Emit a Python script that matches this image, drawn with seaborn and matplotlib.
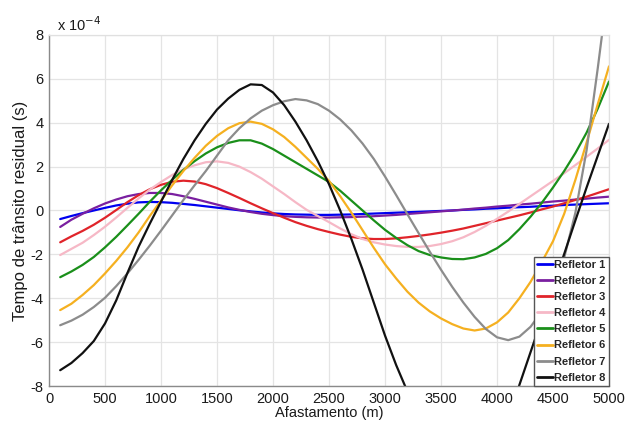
import numpy as np
import pandas as pd
import matplotlib
matplotlib.use("Agg")
import matplotlib.pyplot as plt
import seaborn as sns
from matplotlib import font_manager

# ---------------- data (residual transit time, units of 1e-4 s) ----------------
offset_m = list(range(100, 5001, 100))

refletor_1 = [-0.39, -0.25, -0.12, 0.00, 0.12, 0.23, 0.31, 0.37, 0.39, 0.38,
              0.35, 0.30, 0.25, 0.19, 0.13, 0.07, 0.01, -0.04, -0.09, -0.13,
              -0.16, -0.18, -0.19, -0.20, -0.20, -0.19, -0.18, -0.16, -0.14, -0.12,
              -0.10, -0.08, -0.06, -0.04, -0.02, 0.00, 0.03, 0.05, 0.08, 0.10,
              0.13, 0.15, 0.17, 0.20, 0.22, 0.25, 0.27, 0.29, 0.31, 0.33]
refletor_2 = [-0.75, -0.42, -0.15, 0.10, 0.32, 0.50, 0.65, 0.75, 0.80, 0.80,
              0.75, 0.65, 0.53, 0.40, 0.27, 0.14, 0.03, -0.07, -0.15, -0.21,
              -0.26, -0.29, -0.31, -0.32, -0.32, -0.31, -0.30, -0.28, -0.26, -0.23,
              -0.20, -0.16, -0.12, -0.08, -0.04, 0.00, 0.04, 0.09, 0.13, 0.18,
              0.22, 0.27, 0.31, 0.36, 0.41, 0.45, 0.50, 0.54, 0.59, 0.63]
refletor_3 = [-1.45, -1.18, -0.93, -0.65, -0.33, 0.02, 0.38, 0.70, 0.97, 1.17,
              1.31, 1.36, 1.32, 1.20, 1.02, 0.80, 0.57, 0.33, 0.10, -0.12,
              -0.33, -0.53, -0.70, -0.85, -0.98, -1.10, -1.20, -1.27, -1.30, -1.30,
              -1.27, -1.22, -1.16, -1.09, -1.01, -0.92, -0.82, -0.70, -0.58, -0.46,
              -0.34, -0.22, -0.09, 0.05, 0.18, 0.33, 0.48, 0.63, 0.80, 0.97]
refletor_4 = [-2.03, -1.75, -1.47, -1.12, -0.74, -0.32, 0.12, 0.55, 0.95, 1.30,
              1.62, 1.88, 2.06, 2.20, 2.24, 2.17, 2.00, 1.75, 1.45, 1.10,
              0.75, 0.38, 0.03, -0.25, -0.53, -0.82, -1.08, -1.30, -1.45, -1.55,
              -1.62, -1.66, -1.66, -1.62, -1.53, -1.40, -1.22, -0.98, -0.70, -0.38,
              -0.05, 0.30, 0.65, 1.00, 1.35, 1.70, 2.07, 2.45, 2.83, 3.22]
refletor_5 = [-3.04, -2.78, -2.48, -2.12, -1.68, -1.20, -0.68, -0.15, 0.40, 0.92,
              1.40, 1.85, 2.25, 2.60, 2.88, 3.08, 3.20, 3.20, 3.05, 2.80,
              2.50, 2.20, 1.90, 1.60, 1.30, 0.90, 0.45, 0.00, -0.45, -0.88,
              -1.25, -1.58, -1.85, -2.03, -2.14, -2.21, -2.22, -2.14, -1.98, -1.72,
              -1.35, -0.85, -0.28, 0.35, 1.05, 1.80, 2.62, 3.55, 4.65, 5.88]
refletor_6 = [-4.54, -4.25, -3.85, -3.40, -2.87, -2.30, -1.68, -1.00, -0.25, 0.45,
              1.15, 1.80, 2.40, 2.95, 3.40, 3.75, 3.98, 4.05, 3.95, 3.70,
              3.35, 2.90, 2.40, 1.90, 1.35, 0.65, -0.10, -0.90, -1.70, -2.45,
              -3.10, -3.70, -4.20, -4.60, -4.92, -5.18, -5.38, -5.47, -5.38, -5.10,
              -4.65, -4.00, -3.25, -2.35, -1.40, -0.15, 1.40, 3.10, 4.85, 6.57]
refletor_7 = [-5.23, -5.02, -4.75, -4.40, -3.98, -3.45, -2.87, -2.25, -1.60, -0.92,
              -0.22, 0.48, 1.15, 1.80, 2.50, 3.20, 3.75, 4.20, 4.55, 4.80,
              4.98, 5.08, 5.02, 4.85, 4.55, 4.15, 3.65, 3.05, 2.35, 1.55,
              0.70, -0.17, -1.03, -1.88, -2.70, -3.48, -4.20, -4.85, -5.40, -5.78,
              -5.91, -5.75, -5.30, -4.60, -3.70, -2.15, -0.10, 2.75, 6.50, 10.50]
refletor_8 = [-7.28, -6.95, -6.50, -5.95, -5.15, -4.10, -2.85, -1.65, -0.60, 0.40,
              1.40, 2.35, 3.20, 3.95, 4.60, 5.10, 5.50, 5.75, 5.72, 5.38,
              4.80, 4.05, 3.20, 2.25, 1.20, 0.00, -1.30, -2.70, -4.20, -5.70,
              -7.05, -8.25, -9.40, -10.45, -11.30, -11.85, -12.10, -12.00, -11.55, -10.75,
              -9.50, -7.95, -6.45, -4.95, -3.45, -1.98, -0.45, 1.05, 2.50, 3.95]

series_names = ["Refletor 1", "Refletor 2", "Refletor 3", "Refletor 4",
                "Refletor 5", "Refletor 6", "Refletor 7", "Refletor 8"]
series_values = [refletor_1, refletor_2, refletor_3, refletor_4,
                 refletor_5, refletor_6, refletor_7, refletor_8]
series_colors = ["#0000F0", "#7A1FA0", "#E0242A", "#F6B8C6",
                 "#1A8F1A", "#F5B020", "#8C8C8C", "#111111"]

x_ticks = [0, 500, 1000, 1500, 2000, 2500, 3000, 3500, 4000, 4500, 5000]
y_ticks = [-8, -6, -4, -2, 0, 2, 4, 6, 8]

# ---------------- style ----------------
sns.set_theme(style="whitegrid")
names = {f.name for f in font_manager.fontManager.ttflist}
narrow = "Liberation Sans Narrow" if "Liberation Sans Narrow" in names else None
base = "Liberation Sans" if "Liberation Sans" in names else "DejaVu Sans"
hfont = narrow if narrow else base
plt.rcParams["font.family"] = [hfont, "DejaVu Sans"]
plt.rcParams["axes.unicode_minus"] = False
tick_size = 12.4 if narrow else 10.5
leg_size = 9.5 if narrow else 8

rows = []
for name, vals in zip(series_names, series_values):
    for xv, yv in zip(offset_m, vals):
        rows.append({"Afastamento": xv, "Residuo": yv, "Serie": name})
df = pd.DataFrame(rows)

fig = plt.figure(figsize=(6.33, 4.21), dpi=100)
ax = fig.add_axes([49 / 633, 1 - 386 / 421, 560 / 633, 351 / 421])

sns.lineplot(data=df, x="Afastamento", y="Residuo", hue="Serie",
             palette=dict(zip(series_names, series_colors)),
             hue_order=series_names, linewidth=1.6, ax=ax, sort=True,
             estimator=None)

ax.set_xlim(0, 5000)
ax.set_ylim(-8, 8)
ax.set_xticks(x_ticks)
ax.set_yticks(y_ticks)
ax.set_xticklabels([str(v) for v in x_ticks], fontsize=tick_size)
ax.set_yticklabels([str(v) for v in y_ticks], fontsize=tick_size)
ax.tick_params(axis="both", direction="in", length=3, color="#888888", pad=4,
               labelcolor="#1a1a1a")
ax.grid(True, color="#e4e4e4", linewidth=0.9)
ax.set_facecolor("white")
for side in ["left", "bottom"]:
    ax.spines[side].set_color("#8a8a8a")
    ax.spines[side].set_linewidth(1.0)
for side in ["top", "right"]:
    ax.spines[side].set_color("#e0e0e0")
    ax.spines[side].set_linewidth(0.9)

ax.set_xlabel("Afastamento (m)", fontsize=tick_size, color="#1a1a1a", labelpad=0)
ax.set_ylabel("Tempo de trânsito residual (s)", fontsize=12, color="#1a1a1a",
              labelpad=2, family=[base, "DejaVu Sans"])

ax.text(0.014, 1.004, "x 10$^{-4}$", transform=ax.transAxes, fontsize=tick_size,
        ha="left", va="bottom", color="#1a1a1a")

leg = ax.legend(loc="lower right", borderaxespad=0, frameon=True, fancybox=False,
                prop={"size": leg_size, "weight": "bold", "family": hfont},
                handlelength=1.45, handletextpad=0.12, labelspacing=0.55,
                borderpad=0.3, title=None)
leg.get_frame().set_edgecolor("#555555")
leg.get_frame().set_linewidth(1.0)
leg.get_frame().set_facecolor("white")
leg.get_frame().set_alpha(1.0)
for line in leg.get_lines():
    line.set_linewidth(2.0)

fig.savefig("out.png", dpi=100, facecolor="white")
